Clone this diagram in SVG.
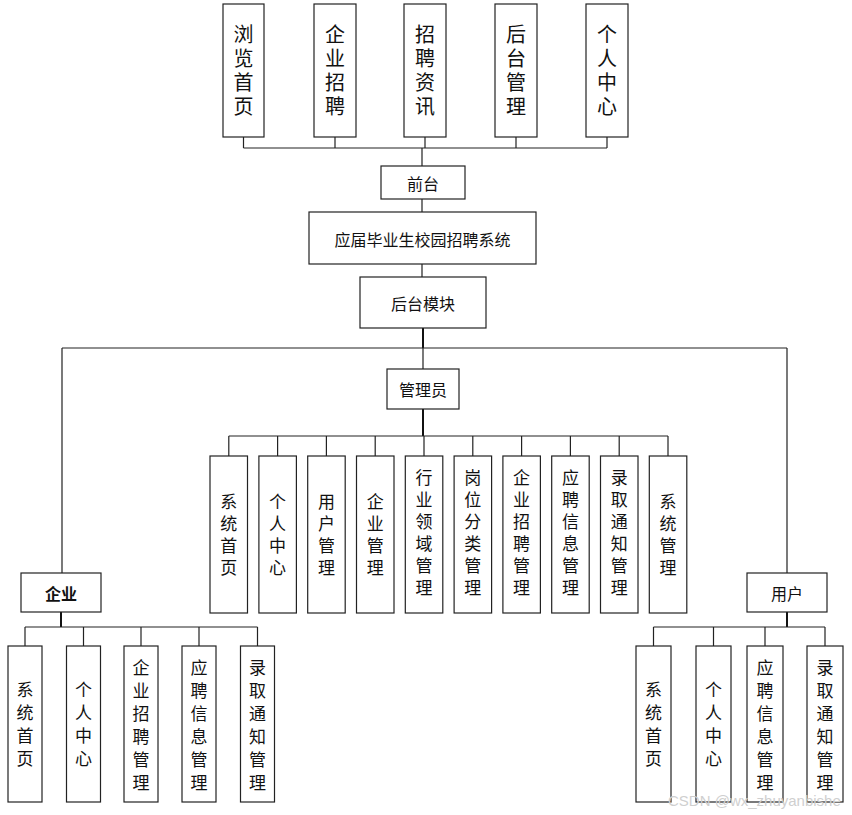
<svg xmlns="http://www.w3.org/2000/svg" width="852" height="815" viewBox="0 0 852 815">
  <style>
    .box { fill: #ffffff; stroke: #222; stroke-width: 1.2; }
    .lbl { font-family: "Noto Sans CJK SC", "Noto Sans", sans-serif; font-size: 16px; fill: #111; text-anchor: middle; dominant-baseline: central; }
    .v { font-family: "Noto Sans CJK SC", "Noto Sans", sans-serif; fill: #111; text-anchor: middle; writing-mode: vertical-rl; }
    .vt { font-size: 20px; letter-spacing: 4px; }
    .va { font-size: 17px; letter-spacing: 5px; }
    .vb { font-size: 17px; letter-spacing: 6px; }
    .wire { fill: none; stroke: #222; stroke-width: 1.2; }
    .trunk { fill: none; stroke: #111; stroke-width: 2; }
    .wm { font-family: "Liberation Sans", Arial, sans-serif; font-size: 15px; fill: #cfcfcf; }
  </style>

  <rect width="852" height="815" fill="#ffffff"/>

  <!-- connectors -->
  <g id="connectors">
    <!-- front-end bus -->
    <path class="wire" d="M243.5 137V148M335 137V148M425 137V148M516 137V148M607 137V148M243.5 148H607"/>
    <path class="wire" d="M422 148V166M422 199V212M422 264V277"/>
    <path class="trunk" d="M423 328V348"/>
    <path class="wire" d="M423 348V369M62 348H787"/>
    <path class="wire" d="M62 348V573M787 348V573"/>
    <!-- administrator bus -->
    <path class="trunk" d="M423 409V436"/>
    <path class="wire" d="M228.8 436H668M228.8 436V456M277.6 436V456M326.4 436V456M375.2 436V456M424 436V456M472.8 436V456M521.6 436V456M570.4 436V456M619.2 436V456M668 436V456"/>
    <!-- company bus -->
    <path class="trunk" d="M61 612V627"/>
    <path class="wire" d="M25 627H257.5M25 627V646M83.5 627V646M141 627V646M199 627V646M257.5 627V646"/>
    <!-- user bus -->
    <path class="trunk" d="M787 612V627"/>
    <path class="wire" d="M653.5 627H825M653.5 627V646M713.5 627V646M765 627V646M825 627V646"/>
  </g>

  <!-- front-end modules -->
  <g id="top-liulan">
    <rect class="box" x="223" y="4" width="41" height="133"/>
    <text class="v vt" x="243.5" y="72.5">浏览首页</text>
  </g>
  <g id="top-qiye">
    <rect class="box" x="314" y="4" width="42" height="133"/>
    <text class="v vt" x="335" y="72.5">企业招聘</text>
  </g>
  <g id="top-zixun">
    <rect class="box" x="404" y="4" width="42" height="133"/>
    <text class="v vt" x="425" y="72.5">招聘资讯</text>
  </g>
  <g id="top-houtai">
    <rect class="box" x="495" y="4" width="42" height="133"/>
    <text class="v vt" x="516" y="72.5">后台管理</text>
  </g>
  <g id="top-geren">
    <rect class="box" x="586" y="4" width="42" height="133"/>
    <text class="v vt" x="607" y="72.5">个人中心</text>
  </g>

  <!-- main chain -->
  <g id="qiantai">
    <rect class="box" x="381" y="166" width="84" height="33"/>
    <text class="lbl" x="423" y="183">前台</text>
  </g>
  <g id="system">
    <rect class="box" x="309" y="212" width="227" height="52"/>
    <text class="lbl" x="422.5" y="238.5">应届毕业生校园招聘系统</text>
  </g>
  <g id="backend">
    <rect class="box" x="360" y="277" width="126" height="51"/>
    <text class="lbl" x="423" y="302.5">后台模块</text>
  </g>
  <g id="admin">
    <rect class="box" x="387" y="369" width="72" height="40"/>
    <text class="lbl" x="423" y="389">管理员</text>
  </g>

  <!-- administrator functions -->
  <g id="admin-1">
    <rect class="box" x="210" y="456" width="37.5" height="157"/>
    <text class="v va" x="228.8" y="537">系统首页</text>
  </g>
  <g id="admin-2">
    <rect class="box" x="258.9" y="456" width="37.5" height="157"/>
    <text class="v va" x="277.6" y="537">个人中心</text>
  </g>
  <g id="admin-3">
    <rect class="box" x="307.7" y="456" width="37.5" height="157"/>
    <text class="v va" x="326.4" y="537">用户管理</text>
  </g>
  <g id="admin-4">
    <rect class="box" x="356.5" y="456" width="37.5" height="157"/>
    <text class="v va" x="375.2" y="537">企业管理</text>
  </g>
  <g id="admin-5">
    <rect class="box" x="405.3" y="456" width="37.5" height="157"/>
    <text class="v va" x="424" y="535.5">行业领域管理</text>
  </g>
  <g id="admin-6">
    <rect class="box" x="454.1" y="456" width="37.5" height="157"/>
    <text class="v va" x="472.8" y="535.5">岗位分类管理</text>
  </g>
  <g id="admin-7">
    <rect class="box" x="502.9" y="456" width="37.5" height="157"/>
    <text class="v va" x="521.6" y="535.5">企业招聘管理</text>
  </g>
  <g id="admin-8">
    <rect class="box" x="551.7" y="456" width="37.5" height="157"/>
    <text class="v va" x="570.4" y="535.5">应聘信息管理</text>
  </g>
  <g id="admin-9">
    <rect class="box" x="600.5" y="456" width="37.5" height="157"/>
    <text class="v va" x="619.2" y="535.5">录取通知管理</text>
  </g>
  <g id="admin-10">
    <rect class="box" x="649.3" y="456" width="37.5" height="157"/>
    <text class="v va" x="668" y="537">系统管理</text>
  </g>

  <!-- company role -->
  <g id="company">
    <rect class="box" x="21" y="573" width="80" height="39"/>
    <text class="lbl" x="61" y="592.5" font-weight="bold">企业</text>
  </g>
  <g id="company-1">
    <rect class="box" x="8" y="646" width="34" height="156"/>
    <text class="v vb" x="25" y="727">系统首页</text>
  </g>
  <g id="company-2">
    <rect class="box" x="66.5" y="646" width="34" height="156"/>
    <text class="v vb" x="83.5" y="727">个人中心</text>
  </g>
  <g id="company-3">
    <rect class="box" x="124" y="646" width="34" height="156"/>
    <text class="v vb" x="141" y="728">企业招聘管理</text>
  </g>
  <g id="company-4">
    <rect class="box" x="182" y="646" width="34" height="156"/>
    <text class="v vb" x="199" y="728">应聘信息管理</text>
  </g>
  <g id="company-5">
    <rect class="box" x="240.5" y="646" width="34" height="156"/>
    <text class="v vb" x="257.5" y="728">录取通知管理</text>
  </g>

  <!-- user role -->
  <g id="user">
    <rect class="box" x="747" y="573" width="80" height="39"/>
    <text class="lbl" x="787" y="592.5">用户</text>
  </g>
  <g id="user-1">
    <rect class="box" x="636" y="646" width="35" height="156"/>
    <text class="v vb" x="653.5" y="727">系统首页</text>
  </g>
  <g id="user-2">
    <rect class="box" x="696" y="646" width="35" height="156"/>
    <text class="v vb" x="713.5" y="727">个人中心</text>
  </g>
  <g id="user-3">
    <rect class="box" x="747" y="646" width="36" height="156"/>
    <text class="v vb" x="765" y="728">应聘信息管理</text>
  </g>
  <g id="user-4">
    <rect class="box" x="807" y="646" width="36" height="156"/>
    <text class="v vb" x="825" y="728">录取通知管理</text>
  </g>

  <text class="wm" x="668" y="806">CSDN @wx_zhuyanbishe</text>
</svg>
